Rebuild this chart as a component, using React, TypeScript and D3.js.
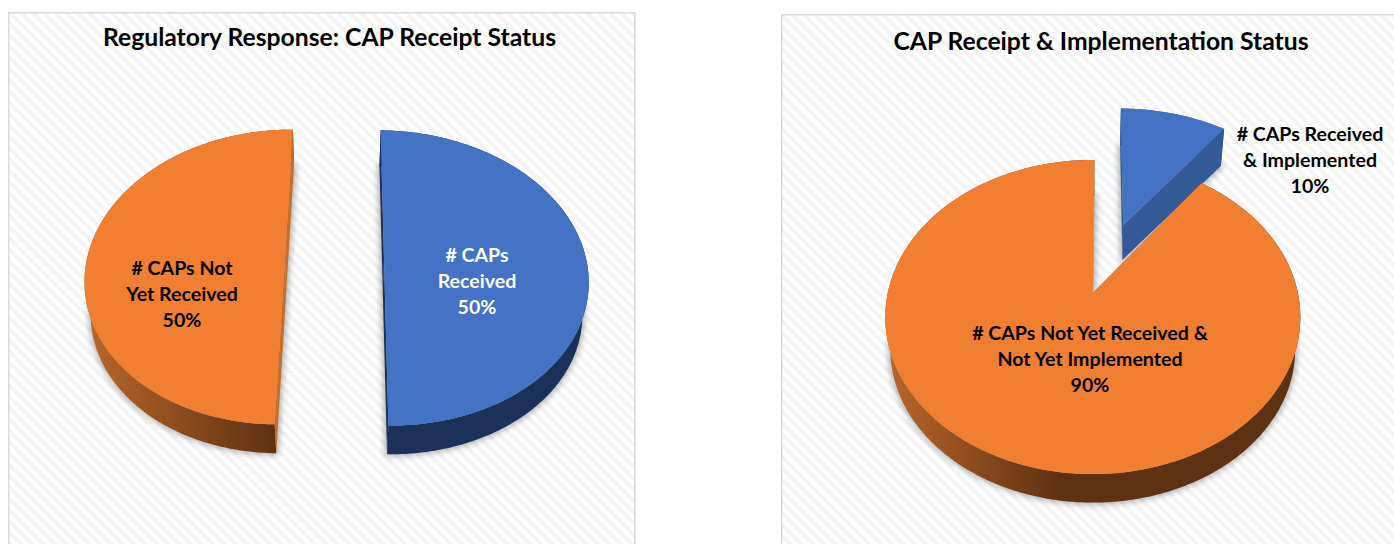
import React from "react";
import * as d3 from "d3";

const receiptLabels = ["# CAPs Received", "# CAPs Not Yet Received"];
const receiptValues = [50, 50];
const implementationLabels = ["# CAPs Received & Implemented", "# CAPs Not Yet Received & Not Yet Implemented"];
const implementationValues = [10, 90];
const titles = ["Regulatory Response: CAP Receipt Status", "CAP Receipt & Implementation Status"];

const W = 1394, H = 544;
const BLUE = "#4472c4", ORANGE = "#f07f31";
const deg = Math.PI / 180;

type Pt = [number, number];
type Cfg = {
  id: string; cx: number; cy: number; B: number; A: number; k: number; start: number;
  explode: number[]; rx: number[]; values: number[]; top: string[]; wall: string[]; cut: string[];
};

const line = d3.line<Pt>();

function PieChart({ cfg }: { cfg: Cfg }) {
  const arcs = d3.pie<number>().sort(null).startAngle(cfg.start).endAngle(cfg.start + 2 * Math.PI)(cfg.values);
  const xS = d3.scaleLinear().domain([0, 1]).range([cfg.cx, cfg.cx + cfg.B]);
  const yS = d3.scaleLinear().domain([0, 1]).range([cfg.cy, cfg.cy - cfg.A]);
  const shrink = 0.975, drop = 33;
  const project = (X: number, Y: number, low: boolean): Pt => {
    const w = 1 + cfg.k * Y;
    const s = low ? shrink : 1;
    return [xS((s * X) / w), yS((s * Y) / w) + (low ? drop : 0)];
  };
  const parts = arcs.map((a, i) => {
    const mid = (a.startAngle + a.endAngle) / 2;
    const e = cfg.explode[i];
    const ox = e * Math.sin(mid), oy = e * Math.cos(mid);
    const angles = [...d3.range(a.startAngle, a.endAngle, 0.01), a.endAngle];
    const rim = (low: boolean) => angles.map(t => project(ox + cfg.rx[i] * Math.sin(t), oy + Math.cos(t), low));
    const c = (low: boolean) => project(ox, oy, low);
    const upper = rim(false), lower = rim(true);
    const n = upper.length - 1;
    return {
      shadow: line([c(true), ...lower]) + "Z",
      top: line([c(false), ...upper]) + "Z",
      wall: line([...upper, ...[...lower].reverse()]) + "Z",
      cutA: line([c(false), upper[0], lower[0], c(true)]) + "Z",
      cutB: line([c(false), upper[n], lower[n], c(true)]) + "Z",
    };
  });
  return (
    <g>
      {parts.map((p, i) => (
        <path key={i} d={p.shadow} fill="#000" stroke="#000" strokeWidth={4} opacity={0.3} filter="url(#soft)" />
      ))}
      {parts.map((p, i) => (
        <g key={i}>
          <path d={p.wall} fill={cfg.wall[i]} />
          <path d={p.cutA} fill={cfg.cut[i]} />
          <path d={p.cutB} fill={cfg.cut[i]} />
          <path d={p.top} fill={cfg.top[i]} />
        </g>
      ))}
    </g>
  );
}

const leftCfg: Cfg = {
  id: "l", cx: 335.5, cy: 258.3, B: 202, A: 145, k: 0.13, start: 0.7 * deg,
  explode: [0.24, 0.25], rx: [1, 0.98], values: receiptValues,
  top: [BLUE, ORANGE], wall: ["#1b3159", "url(#brownL)"], cut: ["#1b3159", "#c4702c"],
};
const rightCfg: Cfg = {
  id: "r", cx: 1092.8, cy: 293, B: 205.1, A: 153.4, k: 0.153, start: 0.5 * deg,
  explode: [0.5, 0], rx: [1.02, 1], values: implementationValues,
  top: [BLUE, ORANGE], wall: ["#335a96", "url(#brownR)"], cut: ["#335a96", "#c4702c"],
};

function Label({ x, y, lines, fill = "#000" }: { x: number; y: number; lines: string[]; fill?: string }) {
  return (
    <text textAnchor="middle" fontFamily="Lato" fontWeight={700} fontSize={19.6} fill={fill}>
      {lines.map((l, i) => (
        <tspan key={i} x={x} y={y + i * 26}>{l}</tspan>
      ))}
    </text>
  );
}

export default function App() {
  const pct = (v: number[], i: number) => d3.format(".0%")(v[i] / d3.sum(v));
  return (
    <svg width={W} height={H} viewBox={`0 0 ${W} ${H}`} style={{ position: "absolute", left: 0, top: 0, display: "block", background: "#fff" }}>
      <defs>
        <pattern id="hatch" width={8} height={8} patternUnits="userSpaceOnUse" patternTransform="rotate(45)">
          <rect width={8} height={8} fill="#ffffff" />
          <rect width={8} height={4} fill="#f4f4f4" />
        </pattern>
        <linearGradient id="brownL" gradientUnits="userSpaceOnUse" x1={90} x2={275} y1={0} y2={0}>
          <stop offset="0" stopColor="#b8652a" />
          <stop offset="1" stopColor="#5f3113" />
        </linearGradient>
        <linearGradient id="brownR" gradientUnits="userSpaceOnUse" x1={890} x2={1060} y1={0} y2={0}>
          <stop offset="0" stopColor="#b8652a" />
          <stop offset="1" stopColor="#5f3113" />
        </linearGradient>
        <filter id="soft" x="-15%" y="-15%" width="130%" height="130%">
          <feGaussianBlur stdDeviation={3} />
        </filter>
      </defs>

      <rect x={8.75} y={12.75} width={626} height={H} fill="url(#hatch)" stroke="#d9d9d9" strokeWidth={1.5} />
      <rect x={781.75} y={14.75} width={W} height={H} fill="url(#hatch)" stroke="#d9d9d9" strokeWidth={1.5} />

      <text x={329.5} y={46} textAnchor="middle" fontFamily="Lato" fontWeight={700} fontSize={24.7} fill="#000">{titles[0]}</text>
      <text x={1101} y={50} textAnchor="middle" fontFamily="Lato" fontWeight={700} fontSize={24.7} fill="#000">{titles[1]}</text>

      <PieChart cfg={leftCfg} />
      <PieChart cfg={rightCfg} />

      <Label x={182} y={275} lines={["# CAPs Not", "Yet Received", pct(receiptValues, 1)]} />
      <Label x={477} y={262} fill="#fff" lines={["# CAPs", "Received", pct(receiptValues, 0)]} />
      <Label x={1090} y={340} lines={["# CAPs Not Yet Received &", "Not Yet Implemented", pct(implementationValues, 1)]} />
      <Label x={1310} y={141} lines={["# CAPs Received", "& Implemented", pct(implementationValues, 0)]} />
    </svg>
  );
}
